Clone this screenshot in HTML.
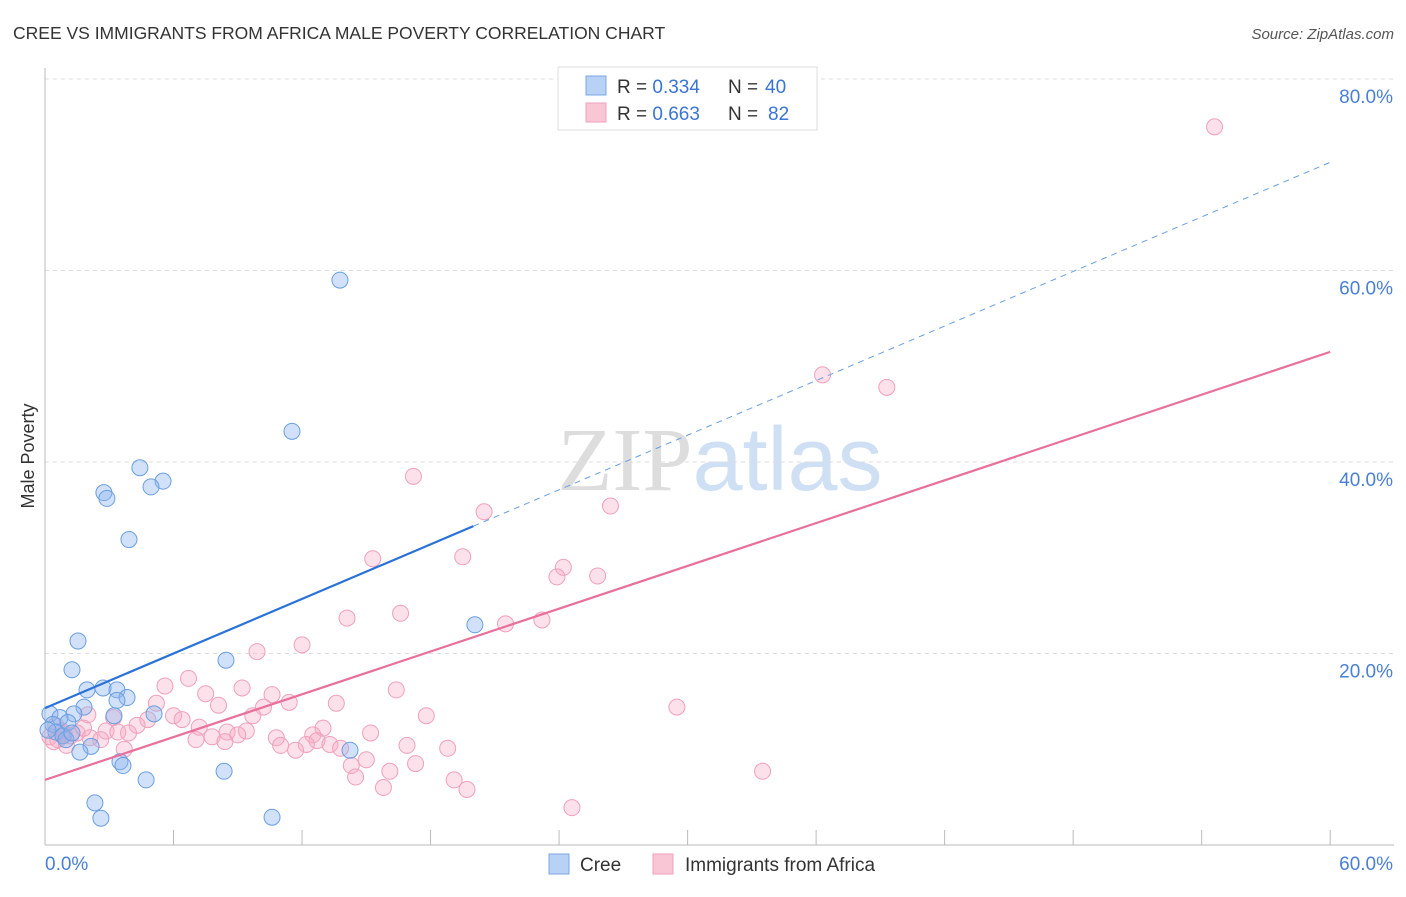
<!DOCTYPE html>
<html><head><meta charset="utf-8"><style>
body{margin:0;background:#fff;font-family:"Liberation Sans",sans-serif;}
svg text{font-family:"Liberation Sans",sans-serif;}
</style></head><body>
<svg id="chart" width="1406" height="892" xmlns="http://www.w3.org/2000/svg">
<text x="13" y="39" font-size="17.5" fill="#333">CREE VS IMMIGRANTS FROM AFRICA MALE POVERTY CORRELATION CHART</text>
<text x="1394" y="39" font-size="15" fill="#555" text-anchor="end" font-style="italic">Source: ZipAtlas.com</text>
<text x="720" y="490" font-size="90" text-anchor="middle"><tspan fill="#ddd" font-family="Liberation Serif">ZIP</tspan><tspan fill="#cfe0f5">atlas</tspan></text>
<g id="grid"></g>
<g id="axes"></g>
<g id="pts"></g>
<g id="lines"></g>
<text transform="translate(34,456) rotate(-90)" font-size="18" fill="#333" text-anchor="middle">Male Poverty</text>
<g>
<rect x="558" y="67" width="259" height="63" fill="#fff" stroke="#ddd"/>
<rect x="586" y="76" width="20" height="19" fill="#b8d2f5" stroke="#7aa7e5"/>
<rect x="586" y="103" width="20" height="19" fill="#f9c6d6" stroke="#f0a0bb"/>
<text x="617" y="93" font-size="19" fill="#333">R = <tspan fill="#3a74d4">0.334</tspan></text>
<text x="728" y="93" font-size="19" fill="#333">N = </text>
<text x="765" y="93" font-size="19" fill="#3a74d4">40</text>
<text x="617" y="120" font-size="19" fill="#333">R = <tspan fill="#3a74d4">0.663</tspan></text>
<text x="728" y="120" font-size="19" fill="#333">N = </text>
<text x="768" y="120" font-size="19" fill="#3a74d4">82</text>
</g>
<g>
<rect x="549" y="854" width="20" height="20" fill="#b8d2f5" stroke="#7aa7e5"/>
<text x="580" y="871" font-size="19" fill="#333">Cree</text>
<rect x="653" y="854" width="20" height="20" fill="#f9c6d6" stroke="#f0a0bb"/>
<text x="685" y="871" font-size="19" fill="#333">Immigrants from Africa</text>
</g>
</svg>
<script>
const yTicks=[20,40,60,80];
const xTickLabels=["0.0%","60.0%"];
const creeX=[13.77,11.53,4.43,5.51,4.95,2.75,2.89,3.92,1.54,20.07,1.26,8.45,1.96,2.71,3.36,3.83,3.36,1.82,5.09,3.22,1.35,0.23,0.70,0.37,1.07,0.51,0.84,0.98,2.15,1.63,14.24,3.50,3.64,8.36,4.72,2.33,2.61,10.60,0.14,1.26];
const creeY=[59.0,43.2,39.4,38.0,37.4,36.8,36.2,31.9,21.3,23.0,18.3,19.3,16.2,16.4,16.2,15.4,15.1,14.4,13.7,13.5,13.7,13.7,13.3,12.6,12.8,11.8,11.4,11.0,10.3,9.7,9.9,8.7,8.3,7.7,6.8,4.4,2.8,2.9,12.0,11.7];
const afrX=[54.6,36.3,39.3,17.2,20.5,26.4,15.3,19.5,24.2,23.9,25.8,16.6,14.1,21.5,23.2,12.0,9.9,6.7,5.6,9.2,16.4,7.5,10.6,11.4,5.2,8.1,13.6,10.2,29.5,6.0,3.2,2.0,9.7,17.8,4.8,6.4,4.3,7.2,12.98,2.85,3.4,8.5,9.4,15.2,9.0,12.5,3.9,12.7,7.8,10.8,2.6,7.05,12.2,13.3,8.4,13.8,11.0,11.7,16.9,18.8,3.7,14.3,15.0,17.3,16.1,14.5,19.1,33.5,19.7,15.8,24.6,0.23,0.6,1.2,0.8,1.5,0.5,1.0,2.1,0.4,1.8,0.9];
const afrY=[75.0,49.1,47.8,38.5,34.8,35.4,29.9,30.1,29.0,28.0,28.1,24.2,23.7,23.1,23.5,20.9,20.2,17.4,16.6,16.4,16.2,15.8,15.7,14.9,14.8,14.6,14.8,14.4,14.4,13.5,13.3,13.6,13.5,13.5,13.1,13.1,12.5,12.3,12.2,11.9,11.8,11.8,11.9,11.7,11.5,11.5,11.7,10.9,11.3,11.2,11.0,11.0,10.5,10.5,10.8,10.1,10.4,9.9,10.4,10.1,10.0,8.3,8.9,8.5,7.7,7.1,6.8,7.7,5.8,6.0,3.9,11.3,11.0,11.4,11.9,11.7,12.5,10.4,11.2,10.8,12.2,11.6];
const creeLine=[14.3,0.95]; // intercept, slope
const afrLine=[6.8,0.745];
const X=v=>45+v*21.42, Y=v=>845-v*9.575;
const NS="http://www.w3.org/2000/svg";
function mk(p,t,a){const e=document.createElementNS(NS,t);for(const k in a)e.setAttribute(k,a[k]);document.getElementById(p).appendChild(e);return e;}
yTicks.forEach(t=>{
 const g=mk('grid','line',{x1:45,x2:1394,y1:Y(t),y2:Y(t),stroke:'#ddd','stroke-dasharray':'4,4'});
 
 
 const l=mk('grid','text',{x:1393,y:Y(t)+24,'font-size':19,fill:'#4a7fd6','text-anchor':'end'});
 l.textContent=t.toFixed(1)+'%';
 
 
});
const ax=mk('axes','line',{x1:45,x2:45,y1:68,y2:845,stroke:'#bbb'});


const bx=mk('axes','line',{x1:45,x2:1394,y1:845,y2:845,stroke:'#bbb'});


for(let i=0;i<=10;i++){const t=mk('axes','line',{x1:X(i*6),x2:X(i*6),y1:830,y2:845,stroke:'#bbb'});
 
 }
[[0,'start',45],[60,'end',1393]].forEach((d,i)=>{const t=mk('axes','text',{x:d[2],y:870,'font-size':19,fill:'#4a7fd6','text-anchor':d[1]});t.textContent=xTickLabels[i];
 
 });
afrX.forEach((x,i)=>{const c=mk('pts','circle',{cx:X(x),cy:Y(afrY[i]),r:8,fill:'rgba(246,170,196,0.35)',stroke:'#f0a0bb','stroke-width':1});
 
 });
creeX.forEach((x,i)=>{const c=mk('pts','circle',{cx:X(x),cy:Y(creeY[i]),r:8,fill:'rgba(140,180,240,0.4)',stroke:'#6a9fe0','stroke-width':1});
 
 });
const f=(l,x)=>l[0]+l[1]*x;
const b1=mk('lines','line',{x1:X(0),y1:Y(f(creeLine,0)),x2:X(20),y2:Y(f(creeLine,20)),stroke:'#2a72d8','stroke-width':2.2});


const b2=mk('lines','line',{x1:X(20),y1:Y(f(creeLine,20)),x2:X(60),y2:Y(f(creeLine,60)),stroke:'#6a9fe0','stroke-width':1,'stroke-dasharray':'6,5'});


const p1=mk('lines','line',{x1:X(0),y1:Y(f(afrLine,0)),x2:X(60),y2:Y(f(afrLine,60)),stroke:'#e8709a','stroke-width':2.2});


</script>
</body></html>
